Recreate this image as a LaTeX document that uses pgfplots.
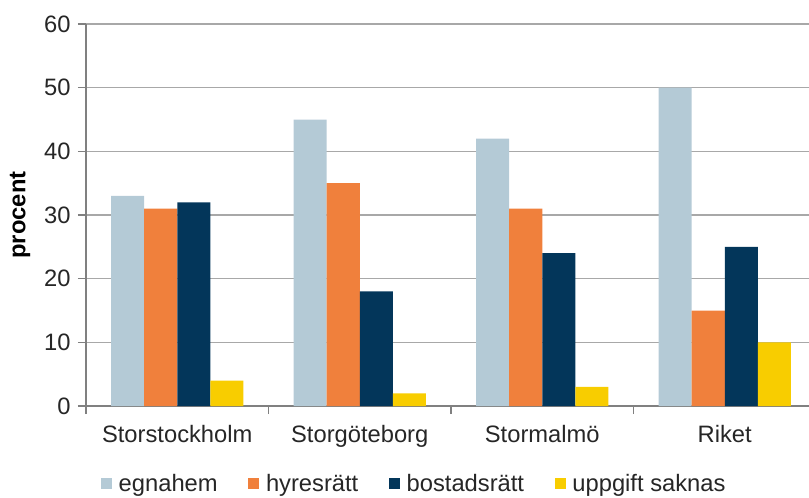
\documentclass[border=0pt]{standalone}
\usepackage{pgfplots}
\pgfplotsset{compat=1.18}
\usepackage{fontspec}
\setmainfont{Liberation Sans}

\definecolor{egna}{HTML}{B4CAD6}
\definecolor{hyres}{HTML}{F0803C}
\definecolor{bostad}{HTML}{03365A}
\definecolor{saknas}{HTML}{F8CD00}
\definecolor{gridgray}{HTML}{A8A8A8}
\definecolor{axgray}{HTML}{808080}
\definecolor{txt}{HTML}{262626}

\newcommand{\chartfont}{\fontsize{17.8}{21}\selectfont}

\begin{document}
\begin{tikzpicture}
\begin{axis}[
  scale only axis,
  width=542.25pt, height=286.5pt,
  ybar=0pt, bar width=0.181,
  xmin=-0.5, xmax=3.4616,
  ymin=0, ymax=60,
  ytick={0,10,...,60},
  ymajorgrids,
  grid style={gridgray, line width=1pt},
  axis lines*=left,
  axis line style={axgray, line width=1pt},
  tick align=outside,
  major tick length=6pt,
  tick style={axgray, line width=1pt},
  xtick={-0.5,0.5,1.5,2.5},
  xticklabels={},
  extra x ticks={0,1,2,3},
  extra x tick labels={Storstockholm,Storgöteborg,Stormalmö,Riket},
  extra x tick style={major tick length=0pt, grid=none,
    xticklabel style={yshift=-11pt}},
  /pgf/number format/assume math mode=true,
  tick label style={font=\chartfont, text=txt},
  yticklabel style={xshift=-2pt},
  ylabel={procent},
  ylabel style={font=\chartfont\bfseries, text=black,
    at={(axis description cs:-0.0913,0.5)}, anchor=center},
  legend columns=4,
  legend style={draw=none, fill=none, font=\chartfont, text=txt,
    at={(axis description cs:0.4545,-0.204)}, anchor=center,
    /tikz/every odd column/.style={column sep=3pt},
    /tikz/every even column/.style={column sep=21pt}},
  legend image code/.code={\fill[#1] (0pt,-4.1pt) rectangle (8.25pt,4.1pt);},
  clip=true,
]
\addplot[fill=egna, draw=none] coordinates {(0,33) (1,45) (2,42) (3,50)};
\addplot[fill=hyres, draw=none] coordinates {(0,31) (1,35) (2,31) (3,15)};
\addplot[fill=bostad, draw=none] coordinates {(0,32) (1,18) (2,24) (3,25)};
\addplot[fill=saknas, draw=none] coordinates {(0,4) (1,2) (2,3) (3,10)};
\legend{egnahem,hyresrätt,bostadsrätt,uppgift saknas}
\coordinate (o) at (rel axis cs:0,0);
\end{axis}
\pgfresetboundingbox
\path (o) ++(-64.5pt,-68.25pt) rectangle ++(606.75pt,372.75pt);
\end{tikzpicture}
\end{document}
